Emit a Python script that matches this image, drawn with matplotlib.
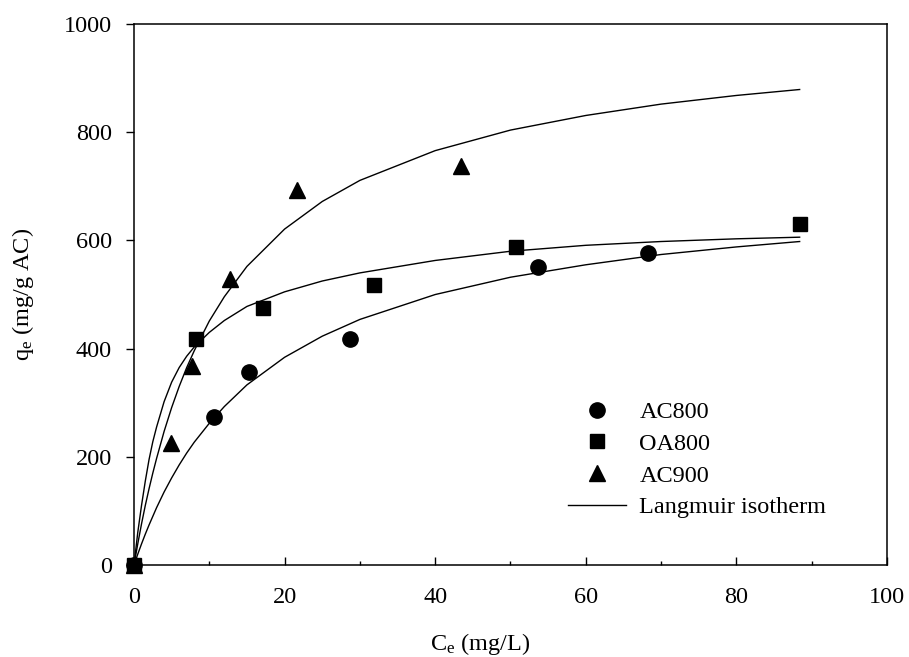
import numpy as np
import matplotlib
matplotlib.use('Agg')
import matplotlib.pyplot as plt
from matplotlib.ticker import MultipleLocator

plt.rcParams['font.family'] = ['Liberation Serif', 'DejaVu Serif']
plt.rcParams['mathtext.fontset'] = 'custom'
plt.rcParams['mathtext.rm'] = 'Liberation Serif'
plt.rcParams['mathtext.it'] = 'Liberation Serif'

# ── Measured points ──────────────────────────────────────────────────────────
ce_ac800 = [0, 10.6, 15.3, 28.7, 53.7, 68.3]
qe_ac800 = [0, 273, 357, 417, 551, 577]

ce_oa800 = [0, 8.2, 17.1, 31.9, 50.7, 88.4]
qe_oa800 = [0, 417, 476, 517, 587, 630]

ce_ac900 = [0, 4.9, 7.7, 12.8, 21.7, 43.4]
qe_ac900 = [0, 225, 368, 528, 693, 737]

# ── Langmuir curves ──────────────────────────────────────────────────────────
ce_fit = [0, 0.5, 1, 1.5, 2, 2.5, 3, 4, 5, 6, 7, 8, 10, 12, 15, 20, 25, 30,
          40, 50, 60, 70, 80, 88.4]
fit_ac800 = [0, 20, 39, 57, 74, 90, 106, 135, 161, 185, 207, 227, 262, 293,
             333, 384, 423, 454, 500, 532, 555, 574, 588, 598]
fit_oa800 = [0, 60, 110, 155, 195, 228, 255, 302, 338, 365, 386, 403, 430, 452,
             478, 505, 525, 540, 563, 580, 591, 598, 603, 606]
fit_ac900 = [0, 39, 76, 110, 141, 170, 197, 247, 291, 330, 365, 396, 451, 496,
             552, 621, 672, 711, 766, 804, 831, 852, 868, 879]

fig = plt.figure(figsize=(9.09, 6.57), dpi=100)
ax = fig.add_axes([0.1474, 0.140, 0.8284, 0.8234])

FS = 17.5
ms = dict(color='black', linestyle='none', clip_on=False, zorder=3)
ax.plot(ce_ac800, qe_ac800, marker='o', markersize=11, label='AC800', **ms)
ax.plot(ce_ac900, qe_ac900, marker='^', markersize=11, label='AC900', **ms)
ax.plot(ce_oa800, qe_oa800, marker='s', markersize=10, label='OA800', **ms)

ax.plot(ce_fit, fit_ac800, color='black', lw=1.0, label='Langmuir isotherm')
ax.plot(ce_fit, fit_oa800, color='black', lw=1.0)
ax.plot(ce_fit, fit_ac900, color='black', lw=1.0)

ax.set_xlim(0, 100)
ax.set_ylim(0, 1000)
ax.xaxis.set_major_locator(MultipleLocator(20))
ax.xaxis.set_minor_locator(MultipleLocator(10))
ax.yaxis.set_major_locator(MultipleLocator(200))

ax.tick_params(axis='x', which='major', direction='in', length=6, width=1, pad=16, labelsize=FS)
ax.tick_params(axis='x', which='minor', direction='in', length=3, width=1)
ax.tick_params(axis='y', which='major', direction='out', length=6, width=1, pad=10, labelsize=FS)
for s in ax.spines.values():
    s.set_linewidth(1.1)

ax.set_xlabel(r'C$_\mathregular{e}$ (mg/L)', fontsize=FS)
ax.xaxis.set_label_coords(0.46, -0.122)
ax.set_ylabel(r'q$_\mathregular{e}$ (mg/g AC)', fontsize=FS)
ax.yaxis.set_label_coords(-0.13, 0.5)

h, l = ax.get_legend_handles_labels()
order = [0, 2, 1, 3]
ax.legend([h[i] for i in order], [l[i] for i in order], loc='upper left',
          bbox_to_anchor=(0.576, 0.303), frameon=False, fontsize=FS,
          borderpad=0, borderaxespad=0, handlelength=2.4, handletextpad=0.55,
          labelspacing=0.4, numpoints=1)

plt.savefig('out.png', dpi=100)
